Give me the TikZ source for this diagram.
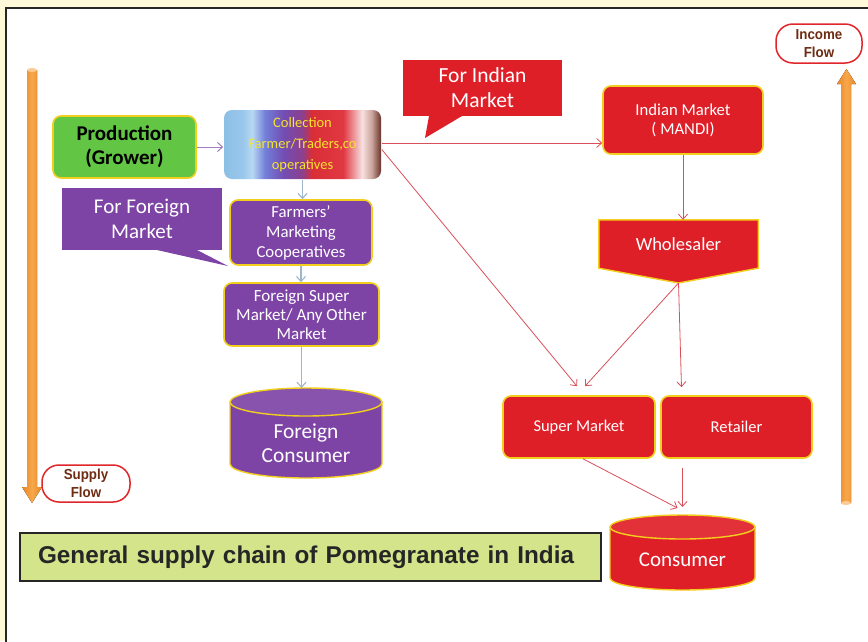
\documentclass[tikz,border=0pt]{standalone}
\usepackage{fontspec}
\setmainfont{Carlito}
\newfontfamily\arialfont{Liberation Sans}
\newfontfamily\narrowfont{Liberation Sans}[FakeStretch=0.92]
\usetikzlibrary{arrows.meta}
\definecolor{cream}{HTML}{FFF9DA}
\definecolor{framegray}{HTML}{262626}
\definecolor{ybord}{HTML}{F2CF1D}
\definecolor{prodgreen}{HTML}{62C644}
\definecolor{purp}{HTML}{7D44A6}
\definecolor{redbox}{HTML}{DF1F28}
\definecolor{colltext}{HTML}{F4E42C}
\definecolor{connred}{HTML}{D9505A}
\definecolor{connblue}{HTML}{9DB6CC}
\definecolor{connpurp}{HTML}{A77BC0}
\definecolor{orangeA}{HTML}{E8862A}
\definecolor{orangeB}{HTML}{F7A84A}
\definecolor{pillred}{HTML}{E0262A}
\definecolor{pilltext}{HTML}{6E2C12}
\definecolor{titlegreen}{HTML}{D4E48A}
\pgfdeclarehorizontalshading{collshade}{100bp}{rgb(0bp)=(0.55,0.75,0.9);
 rgb(25bp)=(0.55,0.75,0.9); rgb(31bp)=(0.6,0.78,0.92); rgb(34bp)=(0.72,0.85,0.95);
 rgb(38bp)=(0.45,0.5,0.85); rgb(44bp)=(0.45,0.3,0.7); rgb(50bp)=(0.55,0.25,0.55);
 rgb(53bp)=(0.85,0.18,0.22); rgb(63bp)=(0.88,0.22,0.26); rgb(69bp)=(0.97,0.88,0.88);
 rgb(72bp)=(0.8,0.65,0.62); rgb(75bp)=(0.4,0.2,0.16); rgb(100bp)=(0.4,0.2,0.16)}
\pgfdeclarelayer{back}
\pgfdeclarelayer{mid}
\pgfsetlayers{back,mid,main}
\begin{document}
\begin{tikzpicture}[x=1pt,y=1pt,
  box/.style={rectangle, rounded corners=8pt, draw=ybord, line width=1.6pt, align=center, inner sep=2pt},
  boxtext/.style={font=\fontsize{16.5}{19.5}\selectfont, text=white},
  pill/.style={rectangle, rounded corners=17pt, draw=pillred, line width=1.5pt, fill=white, align=center,
    text=pilltext, font=\narrowfont\bfseries\fontsize{14.5}{18}\selectfont},
  callout/.style={rectangle, align=center, text=white, font=\fontsize{21}{25}\selectfont},
  connr/.style={draw=connred, line width=0.8pt, -{Straight Barb[length=5pt,width=9pt]}},
  connb/.style={draw=connblue, line width=1.1pt, -{Straight Barb[length=5pt,width=9pt]}},
  connp/.style={draw=connpurp, line width=1pt, -{Straight Barb[length=5pt,width=9pt]}},
  flowarrow/.style={left color=orangeA, right color=orangeA, middle color=orangeB, draw=none},
  cyl/.style={draw=ybord, line width=1.4pt}
]
\useasboundingbox (0,0) rectangle (868,-641);
\begin{pgfonlayer}{back}
  \fill[cream] (0,0) rectangle (868,-641);
  \draw[line width=2.5pt, draw=framegray, fill=white] (6,-8) rectangle (885,-660);
\end{pgfonlayer}

% flow arrows
\fill[flowarrow] (27,-70) -- (27,-487) -- (22,-487) -- (32,-503) -- (42,-487) -- (37,-487) -- (37,-70) -- cycle;
\fill[orangeB!60!white] (32,-70) ellipse[x radius=5, y radius=2];
\fill[flowarrow] (841,-503) -- (841,-84) -- (837,-84) -- (846.5,-69) -- (856,-84) -- (851,-84) -- (851,-503) -- cycle;
\fill[orangeB!60!white] (846,-503) ellipse[x radius=5, y radius=2];

\node[pill, minimum width=88, minimum height=37] (supply) at (86,-483.5) {Supply\\Flow};
\node[pill, minimum width=86, minimum height=39] (income) at (819,-43.5) {Income\\Flow};

% main nodes
\node[box, fill=prodgreen, minimum width=143, minimum height=62, font=\bfseries\fontsize{21}{24}\selectfont, text=black] (prod) at (124.5,-147) {Production\\(Grower)};
\node[box, draw=none, shading=collshade, minimum width=157, minimum height=69, text=colltext, font=\fontsize{14.5}{21}\selectfont] (coll) at (302.5,-144.5) {Collection\\Farmer/Traders,co\\operatives};
\node[box, boxtext, fill=purp, minimum width=142, minimum height=65, font=\fontsize{16.8}{20}\selectfont] (farm) at (301,-232.5) {Farmers’\\Marketing\\Cooperatives};
\node[box, boxtext, fill=purp, minimum width=155, minimum height=63, font=\fontsize{17}{19}\selectfont] (fsm) at (301.5,-314.5) {Foreign Super\\Market/ Any Other\\Market};
\node[box, boxtext, fill=redbox, minimum width=160, minimum height=68, font=\fontsize{16.7}{19}\selectfont] (mandi) at (683,-120) {Indian Market\\( MANDI)};
\node[rectangle, minimum width=159, minimum height=48, text=white, font=\fontsize{18.5}{22}\selectfont] (whole) at (678.5,-244) {Wholesaler};
\coordinate (wtip) at (678.5,-283);
\node[box, boxtext, fill=redbox, minimum width=152, minimum height=62] (smk) at (579,-427) {Super Market};
\node[box, boxtext, fill=redbox, minimum width=151, minimum height=62] (ret) at (736.5,-427) {Retailer};

% callouts
\node[callout, minimum width=160, minimum height=62] (forf) at (142,-219) {For Foreign\\Market};
\node[callout, minimum width=159, minimum height=56, font=\fontsize{21.5}{25}\selectfont] (forind) at (482.5,-88) {For Indian\\Market};

% cylinders text
\node[align=center, text=white, font=\fontsize{21.4}{24}\selectfont] (fcons) at (306,-443) {Foreign\\Consumer};
\coordinate (fconstop) at (306,-388);
\node[align=center, text=white, font=\fontsize{21}{24}\selectfont] (cons) at (682.5,-560) {Consumer};
\coordinate (constop) at (682.5,-515);

\begin{pgfonlayer}{mid}
  \fill[purp] (forf.north west) rectangle (forf.south east);
  \fill[purp] (157,-250) -- (228,-266) -- (197,-250) -- cycle;
  \fill[redbox] (forind.north west) rectangle (forind.south east);
  \fill[redbox] (429,-116) -- (425,-138) -- (462,-116) -- cycle;
  \filldraw[fill=redbox, draw=ybord, line width=1.4pt] (whole.north west) -- (whole.north east) -- (whole.south east) -- (wtip) -- (whole.south west) -- cycle;
  % foreign consumer cylinder
  \filldraw[fill=purp, cyl] (230,-402) -- (230,-464) arc[start angle=180, end angle=360, x radius=76, y radius=14] -- (382,-402) -- cycle;
  \filldraw[fill=purp!92!white, cyl] (306,-402) ellipse[x radius=76, y radius=14];
  % consumer cylinder
  \filldraw[fill=redbox, cyl] (610,-527) -- (610,-578) arc[start angle=180, end angle=360, x radius=72.5, y radius=12] -- (755,-527) -- cycle;
  \filldraw[fill=redbox!92!white, cyl] (682.5,-527) ellipse[x radius=72.5, y radius=12];
\end{pgfonlayer}

% title
\node[rectangle, draw=framegray, line width=1.3pt, fill=titlegreen, minimum height=48, inner xsep=18pt, text width=545, align=left,
  font=\arialfont\bfseries\fontsize{24.3}{26}\selectfont, text=framegray] (title) at (310.5,-557) {General supply chain of Pomegranate in India};

% connectors
\draw[connp] (prod.east) -- (prod.east -| coll.west);
\draw[connb] (coll.south) -- (coll.south |- farm.north);
\draw[connb] (farm.south) -- (farm.south |- fsm.north);
\draw[connb] (fsm.south) -- (fsm.south |- fconstop);
\draw[connr] ([yshift=1.5pt]coll.east) -- ([yshift=1.5pt]coll.east -| mandi.west);
\draw[connr] ([yshift=-5pt]coll.east) -- ([xshift=-2pt,yshift=9pt]smk.north);
\draw[connr] (mandi.south) -- (mandi.south |- whole.north);
\draw[connr] (wtip) -- ([xshift=6pt,yshift=9pt]smk.north);
\draw[connr] (wtip) -- ([xshift=3pt,yshift=8pt]wtip |- ret.north);
\draw[connr] ([xshift=4pt]smk.south) -- ([xshift=-5pt,yshift=7pt]constop);
\draw[connr] ([yshift=-9pt]ret.south -| constop) -- ([yshift=8pt]constop);
\end{tikzpicture}
\end{document}
